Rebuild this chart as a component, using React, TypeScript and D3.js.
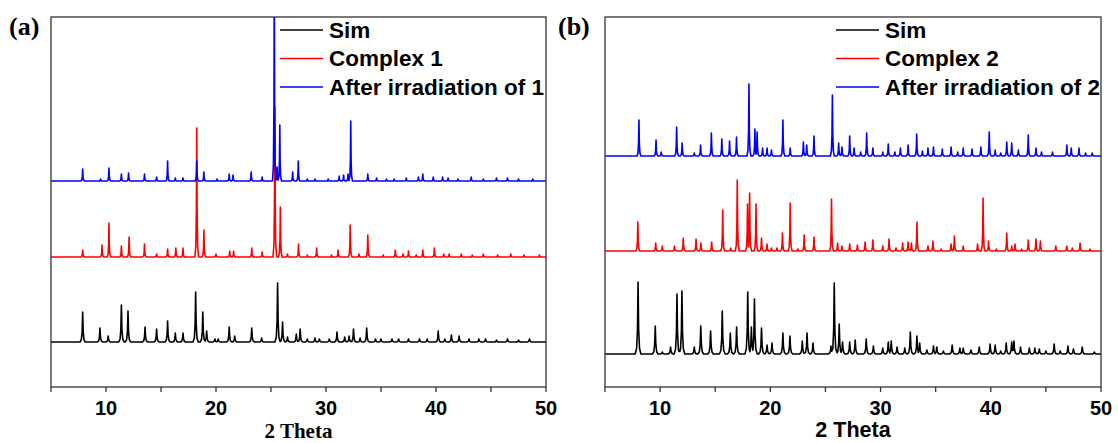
import * as d3 from 'd3'

type Peak = [number, number]

// peak lists: [2 theta, height in a.u.]
const simAPeaks: Peak[] = [
  [7.88, 30], [9.45, 14], [10.2, 6], [11.4, 37], [12.0, 31], [13.55, 15], [14.6, 13], [15.6, 21],
  [16.3, 9], [17.0, 9], [18.15, 50], [18.8, 30], [19.15, 11], [19.9, 3], [20.2, 3], [21.2, 15],
  [21.7, 6], [23.25, 14], [24.15, 4], [25.6, 59], [26.05, 20], [26.5, 5], [27.3, 8], [27.65, 13],
  [28.3, 3], [29.0, 4], [29.4, 3], [30.3, 3], [31.0, 10], [31.7, 5], [32.1, 6], [32.5, 13],
  [33.1, 4], [33.7, 14], [34.5, 3], [35.0, 3], [36.0, 3], [36.6, 3], [37.5, 3], [38.5, 3],
  [39.2, 3], [40.2, 11], [40.8, 3], [41.4, 7], [42.1, 6], [43.0, 3], [43.9, 3], [44.5, 3],
  [45.5, 2], [46.5, 3], [47.5, 2], [48.5, 3],
]
const complex1Peaks: Peak[] = [
  [7.88, 7], [9.64, 12], [10.27, 34], [11.4, 11], [12.1, 20], [13.5, 13], [14.6, 3], [15.6, 8],
  [16.35, 9], [17.0, 9], [18.25, 129], [18.9, 27], [20.0, 3], [21.25, 6], [21.6, 6], [23.25, 9],
  [24.2, 5], [25.35, 150], [25.85, 50], [26.5, 3], [27.5, 13], [28.3, 2], [29.15, 9], [30.5, 2],
  [31.1, 7], [32.2, 32], [33.0, 3], [33.8, 22], [35.2, 2], [36.3, 7], [37.0, 3], [37.5, 6],
  [38.2, 2], [38.8, 7], [39.85, 9], [40.7, 3], [41.2, 3], [42.3, 3], [43.3, 2], [44.3, 3],
  [45.6, 2], [46.8, 3], [48.0, 2], [49.4, 2],
]
const irr1Peaks: Peak[] = [
  [7.88, 12], [9.5, 2], [10.27, 13], [11.4, 7], [12.05, 8], [13.5, 7], [14.6, 4], [15.6, 20],
  [16.3, 3], [17.0, 3], [18.25, 20], [18.9, 9], [20.1, 2], [21.2, 7], [21.55, 6], [23.2, 9],
  [24.2, 4], [25.3, 210], [25.55, 14], [25.8, 56], [26.97, 9], [27.48, 20], [28.3, 2], [29.0, 2],
  [30.2, 2], [31.2, 5], [31.6, 6], [32.0, 7], [32.25, 60], [33.8, 7], [34.6, 3], [35.5, 2],
  [36.2, 2], [37.3, 3], [38.4, 4], [38.8, 7], [39.75, 4], [40.6, 4], [41.1, 3], [42.0, 2],
  [43.2, 4], [44.3, 2], [45.5, 3], [46.5, 3], [47.5, 2], [48.8, 2],
]
const simBPeaks: Peak[] = [
  [8.0, 72], [9.56, 28], [10.2, 2], [10.95, 7], [11.53, 60], [11.98, 63], [13.1, 7], [13.69, 28],
  [14.58, 23], [15.64, 43], [16.37, 21], [16.94, 27], [17.95, 62], [18.28, 27], [18.56, 55], [19.2, 26],
  [19.7, 9], [20.15, 11], [21.14, 21], [21.78, 18], [22.9, 13], [23.33, 21], [23.87, 11], [25.5, 8],
  [25.8, 71], [26.25, 30], [26.55, 12], [27.2, 12], [27.7, 14], [28.7, 15], [29.35, 8], [30.2, 6],
  [30.7, 12], [30.97, 13], [31.5, 7], [32.2, 6], [32.7, 22], [33.3, 18], [33.55, 11], [34.2, 4],
  [34.8, 8], [35.1, 7], [35.7, 3], [36.5, 9], [37.2, 6], [37.5, 6], [38.2, 4], [38.95, 7],
  [39.94, 10], [40.4, 9], [40.9, 3], [41.4, 11], [41.9, 12], [42.1, 13], [42.7, 7], [43.5, 6],
  [44.0, 6], [44.4, 5], [45.0, 3], [45.75, 10], [46.3, 3], [47.0, 8], [47.5, 5], [48.3, 7], [49.4, 2],
]
const complex2Peaks: Peak[] = [
  [7.98, 29], [9.6, 8], [10.2, 5], [11.3, 5], [12.1, 13], [13.26, 12], [13.7, 8], [14.68, 9],
  [15.68, 41], [16.4, 3], [17.0, 71], [17.93, 47], [18.12, 58], [18.7, 47], [19.2, 13], [19.7, 7],
  [20.1, 3], [20.6, 3], [21.1, 18], [21.8, 48], [22.5, 2], [23.07, 16], [23.96, 14], [25.55, 52],
  [26.1, 8], [26.5, 5], [27.2, 7], [27.9, 6], [28.6, 9], [29.3, 11], [30.2, 5], [30.77, 12],
  [31.4, 3], [32.0, 8], [32.5, 9], [32.8, 8], [33.3, 29], [34.3, 5], [34.75, 10], [35.5, 2],
  [36.4, 7], [36.7, 15], [37.5, 5], [38.8, 7], [39.3, 53], [39.8, 10], [40.5, 2], [41.45, 18],
  [41.9, 5], [42.2, 7], [42.8, 2], [43.4, 11], [44.1, 12], [44.5, 10], [45.9, 5], [46.9, 5],
  [47.4, 3], [48.1, 8], [49.0, 2],
]
const irr2Peaks: Peak[] = [
  [8.08, 36], [9.63, 16], [10.1, 4], [11.5, 29], [12.0, 13], [13.1, 3], [13.67, 11], [14.65, 23],
  [15.6, 17], [16.3, 15], [16.93, 19], [18.06, 72], [18.6, 27], [18.8, 24], [19.3, 8], [19.7, 8],
  [20.1, 6], [21.14, 36], [21.8, 8], [23.0, 14], [23.3, 11], [23.96, 20], [25.63, 61], [26.2, 13],
  [26.5, 9], [27.2, 20], [27.6, 8], [28.2, 4], [28.74, 23], [29.3, 8], [30.2, 4], [30.7, 12],
  [31.3, 4], [31.8, 8], [32.5, 11], [33.28, 22], [33.8, 5], [34.3, 8], [34.8, 9], [35.6, 7],
  [36.4, 9], [37.0, 4], [37.5, 8], [38.3, 7], [39.1, 9], [39.86, 24], [40.4, 6], [40.9, 3],
  [41.45, 14], [41.9, 13], [42.5, 6], [43.4, 21], [44.1, 8], [44.6, 4], [45.6, 4], [46.9, 11],
  [47.3, 8], [48.0, 8], [48.6, 3], [49.2, 3],
]

// vertical stacking offsets (a.u.) for Sim, Complex, After irradiation
const offsetsA = [45, 130, 206]
const offsetsB = [33, 136, 231]

const legendA = ['Sim', 'Complex 1', 'After irradiation of 1']
const legendB = ['Sim', 'Complex 2', 'After irradiation of 2']
const colors = ['#000000', '#ff0000', '#0000ff']

const xTicks = [5, 10, 15, 20, 25, 30, 35, 40, 45, 50]
const xTickLabels = [10, 20, 30, 40, 50]

const height = 443
const top = 17
const bottom = 387

// pointed peak profile, relative to half width
const shape: [number, number][] = [[-1, 0], [-0.5, 0.08], [-0.2, 0.35], [0, 1], [0.2, 0.35], [0.5, 0.08], [1, 0]]
const unit = d3.scaleLinear()
  .domain(shape.map((s) => s[0]))
  .range(shape.map((s) => s[1]))
  .clamp(true)

function trace(peaks: Peak[], hw: number): [number, number][] {
  const xs = new Set<number>([5, 50])
  peaks.forEach(([p]) => shape.forEach(([u]) => xs.add(+(p + u * hw).toFixed(4))))
  return [...xs]
    .filter((x) => x >= 5 && x <= 50)
    .sort((a, b) => a - b)
    .map((x) => [x, d3.max(peaks, ([p, h]) => h * unit((x - p) / hw)) ?? 0])
}

const sans = "'Liberation Sans', Arial, sans-serif"
const serif = "'Liberation Serif', 'Times New Roman', serif"

function Panel({ id, left, right, tag, tagX, series, offsets, widths, legend, legendX, titleFont }) {
  const x = d3.scaleLinear().domain([5, 50]).range([left, right])
  const y = d3.scaleLinear().domain([0, bottom - top]).range([bottom, top])
  return (
    <g>
      <defs>
        <clipPath id={id}>
          <rect x={left} y={top} width={right - left} height={bottom - top} />
        </clipPath>
      </defs>
      <g clipPath={`url(#${id})`}>
        {series.map((peaks, i) => {
          const line = d3.line<[number, number]>()
            .x((d) => x(d[0]))
            .y((d) => y(offsets[i] + d[1]))
          return (
            <path key={i} d={line(trace(peaks, widths[i])) ?? ''} fill="none"
              stroke={colors[i]} strokeWidth={1.6} strokeLinejoin="round" />
          )
        })}
      </g>
      <rect x={left} y={top} width={right - left} height={bottom - top} fill="none" stroke="#333" strokeWidth={1.3} />
      {xTicks.map((t) => (
        <line key={t} x1={x(t)} x2={x(t)} y1={bottom} y2={bottom + 5} stroke="#333" strokeWidth={1.3} />
      ))}
      {xTickLabels.map((t) => (
        <text key={t} x={x(t)} y={415} textAnchor="middle" fontFamily={sans} fontWeight="bold" fontSize={20}>
          {t}
        </text>
      ))}
      <text x={(left + right) / 2} y={titleFont === 'serif' ? 438 : 437} textAnchor="middle"
        fontFamily={titleFont === 'serif' ? serif : sans} fontWeight="bold" fontSize={titleFont === 'serif' ? 21 : 21.5}>
        2 Theta
      </text>
      <text x={tagX} y={35} fontFamily={serif} fontWeight="bold" fontSize={26}>{tag}</text>
      {legend.map((name, i) => (
        <g key={name}>
          <line x1={legendX} x2={legendX + 43} y1={30 + i * 28.5} y2={30 + i * 28.5} stroke={colors[i]} strokeWidth={1.6} />
          <text x={legendX + 49} y={37.5 + i * 28.5} fontFamily={sans} fontWeight="bold" fontSize={22.5}>{name}</text>
        </g>
      ))}
    </g>
  )
}

export default function App() {
  return (
    <svg width={1118} height={height} style={{ position: 'absolute', left: 0, top: 0, background: '#fff' }}>
      <Panel id="clipA" left={51} right={546} tag="(a)" tagX={9}
        series={[simAPeaks, complex1Peaks, irr1Peaks]} offsets={offsetsA} widths={[0.24, 0.17, 0.16]}
        legend={legendA} legendX={280} titleFont="serif" />
      <Panel id="clipB" left={605} right={1101} tag="(b)" tagX={558}
        series={[simBPeaks, complex2Peaks, irr2Peaks]} offsets={offsetsB} widths={[0.26, 0.18, 0.18]}
        legend={legendB} legendX={836} titleFont="sans" />
    </svg>
  )
}
